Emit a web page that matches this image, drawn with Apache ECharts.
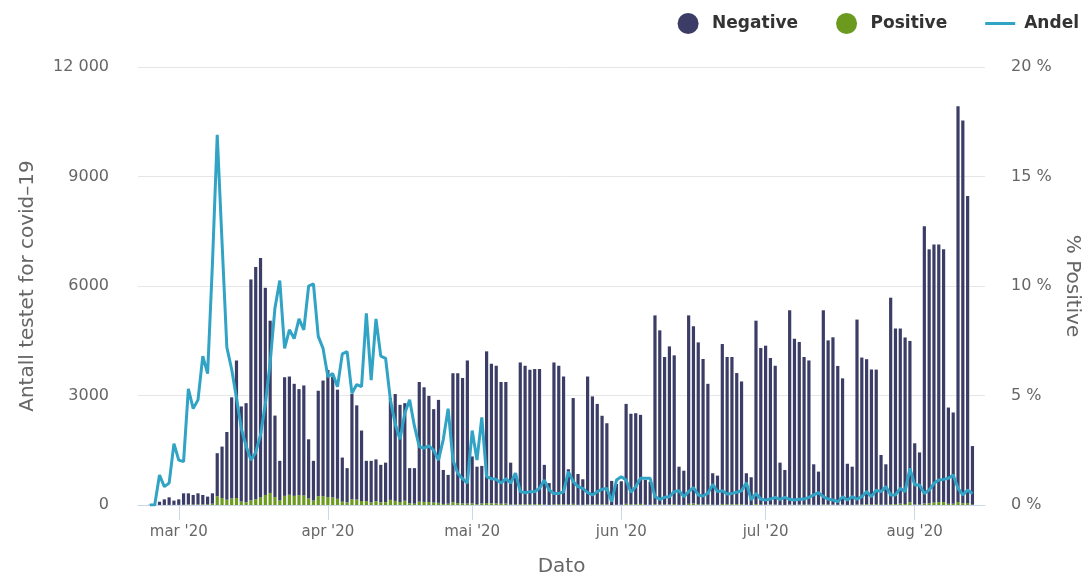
<!DOCTYPE html>
<html>
<head>
<meta charset="utf-8">
<script src="https://cdn.jsdelivr.net/npm/echarts@6/dist/echarts.min.js"></script>
<style>
html,body{margin:0;padding:0;background:#fff;}
#chart{width:1084px;height:578px;}
</style>
</head>
<body>
<div id="chart"></div>
<script>
// Daily values from 24 Feb 2020 to 13 Aug 2020 (one value per day)
const firstDay = [2020, 1, 24];
const monthLabels = ['jan', 'feb', 'mar', 'apr', 'mai', 'jun', 'jul', 'aug', 'sep', 'okt', 'nov', 'des'];
const yLeftLabels = ['0', '3000', '6000', '9000', '12 000'];

const negative = [
  8, 15, 89, 154, 208, 117,
  152, 314, 303, 263, 305, 256, 216, 285, 1180, 1410, 1855, 2770, 3765, 2605, 2715, 6055, 6365, 6555, 5675, 4720, 2230, 1085, 3250, 3240, 3070, 2905, 3015, 1620, 1088, 2890, 3165,
  3485, 3310, 2990, 1210, 940, 2885, 2580, 1930, 1105, 1140, 1145, 1025, 1082, 2790, 2928, 2663, 2673, 962, 974, 3280, 3141, 2909, 2560, 2821, 931, 789, 3536, 3558, 3438, 3920,
  1285, 1028, 1027, 4155, 3824, 3770, 3336, 3330, 1148, 857, 3881, 3794, 3682, 3702, 3697, 1087, 596, 3884, 3795, 3501, 965, 2899, 843, 700, 3500, 2961, 2753, 2427, 2223, 659, 568,
  642, 2738, 2485, 2494, 2440, 682, 632, 5175, 4773, 4041, 4328, 4075, 1043, 936, 5163, 4856, 4435, 3984, 3302, 862, 800, 4381, 4035, 4034, 3594, 3363, 861, 758, 5023, 4289,
  4355, 4014, 3802, 1157, 957, 5321, 4545, 4453, 4044, 3946, 1110, 910, 5315, 4498, 4584, 3804, 3457, 1127, 1046, 5067, 4025, 3971, 3696, 3685, 1362, 1106, 5654, 4813, 4798, 4562, 4420,
  1675, 1427, 7595, 6957, 7069, 7059, 6923, 2637, 2500, 10842, 10487, 8407, 1606
];

const positive = [
  0, 0, 1, 1, 2, 3,
  3, 6, 17, 12, 15, 19, 14, 35, 240, 190, 145, 180, 195, 95, 75, 125, 155, 215, 275, 330, 220, 125, 250, 280, 250, 270, 260, 180, 122, 240, 245,
  215, 210, 170, 90, 70, 155, 150, 110, 105, 70, 105, 75, 78, 140, 112, 82, 117, 48, 36, 90, 84, 81, 66, 59, 29, 36, 74, 52, 42, 40,
  45, 22, 43, 55, 46, 45, 34, 40, 12, 13, 24, 21, 23, 23, 28, 13, 4, 21, 20, 19, 15, 31, 7, 5, 20, 14, 17, 18, 17, 1, 7,
  8, 32, 15, 21, 30, 8, 8, 20, 12, 14, 17, 25, 7, 4, 32, 39, 20, 16, 18, 8, 5, 29, 20, 21, 21, 22, 9, 2, 27, 11,
  10, 11, 13, 3, 3, 14, 10, 12, 11, 14, 5, 5, 20, 12, 11, 6, 13, 3, 4, 13, 15, 24, 14, 25, 8, 9, 26, 22, 37, 28, 75,
  15, 13, 40, 48, 71, 81, 82, 33, 35, 83, 48, 58, 9
];

const andel = [
  0, 0, 1.37, 0.84, 1.0, 2.8,
  2.05, 1.98, 5.3, 4.4, 4.8, 6.8, 6.0, 11.0, 16.9, 12.0, 7.2, 6.2, 4.9, 3.5, 2.7, 2.05, 2.4, 3.2, 4.6, 6.5, 9.0, 10.25, 7.15, 8.0, 7.6, 8.5, 8.0, 10.0, 10.1, 7.7, 7.15,
  5.86, 6.0, 5.4, 6.9, 7.0, 5.1, 5.5, 5.4, 8.75, 5.7, 8.5, 6.8, 6.7, 4.8, 3.7, 3.0, 4.2, 4.8, 3.6, 2.66, 2.6, 2.7, 2.5, 2.05, 3.0, 4.4, 2.05, 1.45, 1.2, 1.0,
  3.4, 2.05, 4.0, 1.3, 1.2, 1.17, 1.0, 1.2, 1.0, 1.45, 0.61, 0.56, 0.61, 0.61, 0.76, 1.14, 0.68, 0.53, 0.53, 0.6, 1.52, 1.07, 0.84, 0.76, 0.56, 0.46, 0.61, 0.72, 0.76, 0.15, 1.14,
  1.29, 1.14, 0.58, 0.84, 1.22, 1.22, 1.22, 0.38, 0.26, 0.35, 0.38, 0.61, 0.65, 0.38, 0.61, 0.79, 0.46, 0.41, 0.53, 0.94, 0.61, 0.65, 0.5, 0.53, 0.58, 0.65, 1.02, 0.23, 0.53, 0.26,
  0.23, 0.27, 0.35, 0.26, 0.35, 0.26, 0.23, 0.26, 0.27, 0.35, 0.46, 0.56, 0.38, 0.27, 0.23, 0.15, 0.38, 0.23, 0.38, 0.26, 0.38, 0.61, 0.38, 0.68, 0.61, 0.84, 0.46, 0.46, 0.76, 0.61, 1.67,
  0.91, 0.91, 0.53, 0.68, 0.99, 1.14, 1.17, 1.22, 1.37, 0.76, 0.46, 0.68, 0.53
];

const dates = negative.map((_, i) => new Date(firstDay[0], firstDay[1], firstDay[2] + i).getTime());
const pair = arr => arr.map((v, i) => [dates[i], v]);

const FONT = 'DejaVu Sans';
const chart = echarts.init(document.getElementById('chart'), null, { renderer: 'canvas' });

chart.setOption({
  animation: false,
  backgroundColor: '#ffffff',
  textStyle: { fontFamily: FONT },
  legend: {
    right: 0,
    top: 8,
    itemWidth: 30,
    itemHeight: 21,
    itemGap: 38,
    symbolKeepAspect: true,
    textStyle: { fontFamily: FONT, fontWeight: 'bold', fontSize: 17, color: '#333333', padding: [0, 0, 0, 4] },
    data: [
      { name: 'Negative', icon: 'circle' },
      { name: 'Positive', icon: 'circle' },
      { name: 'Andel', icon: 'path://M0,0H30V3H0Z' }
    ]
  },
  grid: { left: 138, right: 99, top: 67, bottom: 73, outerBoundsMode: 'none', containLabel: false },
  xAxis: {
    type: 'time',
    min: new Date(2020, 1, 21, 20, 40).getTime(),
    max: new Date(2020, 7, 15, 6, 40).getTime(),
    minInterval: 28 * 86400000,
    maxInterval: 31 * 86400000,
    name: 'Dato',
    nameLocation: 'middle',
    nameGap: 52,
    nameTextStyle: { fontFamily: FONT, fontSize: 20, color: '#666666' },
    axisLine: { lineStyle: { color: '#ccd6eb', width: 1 } },
    axisTick: { show: true, length: 15, lineStyle: { color: '#ccd6eb' } },
    minorTick: { show: false },
    splitLine: { show: false },
    axisLabel: {
      margin: 20,
      fontFamily: FONT,
      fontSize: 15,
      color: '#666666',
      showMinLabel: false,
      showMaxLabel: false,
      formatter: function (val) {
        const d = new Date(val);
        if (d.getDate() !== 1) return '';
        return monthLabels[d.getMonth()] + " '20";
      }
    }
  },
  yAxis: [
    {
      type: 'value',
      min: 0,
      max: 12000,
      interval: 3000,
      name: 'Antall testet for covid–19',
      nameLocation: 'middle',
      nameGap: 100,
      nameTextStyle: { fontFamily: FONT, fontSize: 20, color: '#666666' },
      axisLine: { show: false },
      axisTick: { show: false },
      splitLine: { lineStyle: { color: '#e6e6e6', width: 1 } },
      axisLabel: {
        margin: 29,
        fontFamily: FONT,
        fontSize: 16,
        color: '#666666',
        formatter: v => yLeftLabels[Math.round(v / 3000)]
      }
    },
    {
      type: 'value',
      min: 0,
      max: 20,
      interval: 5,
      name: '% Positive',
      nameLocation: 'middle',
      nameGap: 77,
      nameRotate: -90,
      nameTextStyle: { fontFamily: FONT, fontSize: 20, color: '#666666' },
      axisLine: { show: false },
      axisTick: { show: false },
      splitLine: { show: false },
      axisLabel: {
        margin: 26,
        fontFamily: FONT,
        fontSize: 16,
        color: '#666666',
        formatter: '{value} %'
      }
    }
  ],
  series: [
    {
      name: 'Positive',
      type: 'bar',
      stack: 'tests',
      barWidth: 3.2,
      itemStyle: { color: '#6b9a1f' },
      data: pair(positive)
    },
    {
      name: 'Negative',
      type: 'bar',
      stack: 'tests',
      barWidth: 3.2,
      itemStyle: { color: '#3b3d66' },
      data: pair(negative)
    },
    {
      name: 'Andel',
      type: 'line',
      yAxisIndex: 1,
      symbol: 'none',
      z: 5,
      lineStyle: { color: '#31a3c5', width: 3 },
      itemStyle: { color: '#31a3c5' },
      data: pair(andel)
    }
  ]
});
</script>
</body>
</html>
